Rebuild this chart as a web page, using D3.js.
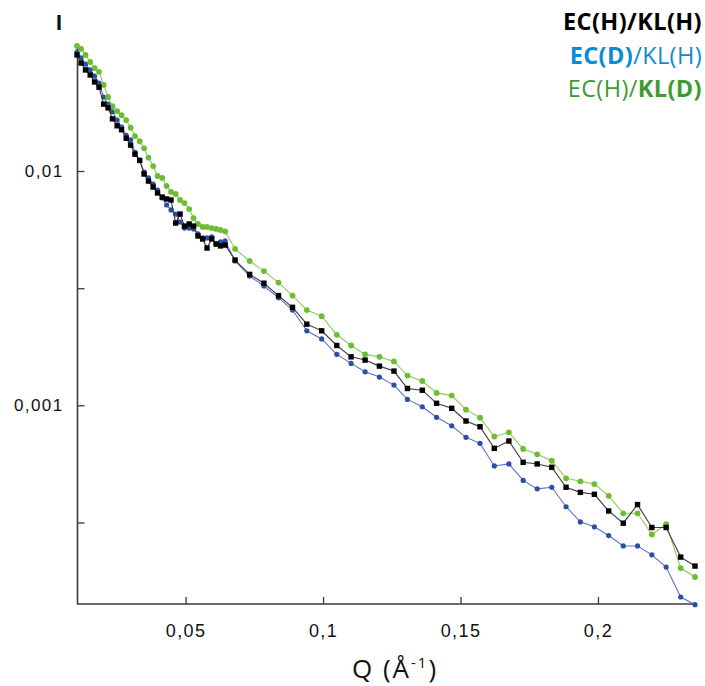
<!DOCTYPE html>
<html>
<head>
<meta charset="utf-8">
<script src="https://cdn.jsdelivr.net/npm/d3@7"></script>
<style>
  html, body { margin: 0; padding: 0; background: #fff; }
  svg { display: block; font-family: "Open Sans", "Noto Sans", sans-serif; }
</style>
</head>
<body>
<svg id="chart" width="705" height="686"></svg>
<script>
// ---- data ----
const Q = [
  0.0105, 0.0120, 0.0136, 0.0153, 0.0169, 0.0185, 0.0202, 0.0218, 0.0234, 0.0251,
  0.0267, 0.0284, 0.0300, 0.0316, 0.0333, 0.0349, 0.0365, 0.0382, 0.0398, 0.0415,
  0.0431, 0.0447, 0.0464, 0.0480, 0.0496, 0.0513, 0.0529, 0.0545, 0.0562, 0.0578,
  0.0595, 0.0611, 0.0627, 0.0644,
  0.0680, 0.0733, 0.0785, 0.0838, 0.0889, 0.0941, 0.0995, 0.1050, 0.1102, 0.1153,
  0.1205, 0.1258, 0.1307, 0.1361, 0.1413, 0.1468, 0.1520, 0.1571, 0.1623, 0.1676,
  0.1728, 0.1779, 0.1832, 0.1884, 0.1936, 0.1987, 0.2039, 0.2092, 0.2144, 0.2196,
  0.2248, 0.2301, 0.2353
];
// EC(H)/KL(H) - black squares
const I_ECH_KLH = [
  0.0313, 0.0289, 0.0270, 0.0257, 0.0240, 0.0228, 0.0193, 0.0186, 0.0167, 0.0156,
  0.0150, 0.0138, 0.0129, 0.0118, 0.0111, 0.00971, 0.00906, 0.00854, 0.00806, 0.00774,
  0.00760, 0.00752, 0.00600, 0.00655, 0.00582, 0.00594, 0.00582, 0.00528, 0.00513, 0.00469,
  0.00513, 0.00488, 0.00479, 0.00483,
  0.00417, 0.00362, 0.00332, 0.00294, 0.00262, 0.00222, 0.00208, 0.00180, 0.00161, 0.00156,
  0.00147, 0.00140, 0.00118, 0.00116, 0.00102, 0.000971, 0.000857, 0.000810, 0.000655, 0.000704,
  0.000571, 0.000562, 0.000544, 0.000447, 0.000425, 0.000417, 0.000354, 0.000314, 0.000377, 0.000301,
  0.000301, 0.000225, 0.000206
];
// EC(D)/KL(H) - blue dots
const I_ECD_KLH = [
  0.0322, 0.0304, 0.0286, 0.0270, 0.0254, 0.0237, 0.0207, 0.0193, 0.0179, 0.0165,
  0.0154, 0.0142, 0.0136, 0.0120, 0.0111, 0.00990, 0.00934, 0.00880, 0.00830, 0.00767,
  0.00716, 0.00682, 0.00655, 0.00606, 0.00571, 0.00571, 0.00566, 0.00539, 0.00518, 0.00518,
  0.00523, 0.00488, 0.00498, 0.00503,
  0.00413, 0.00356, 0.00323, 0.00288, 0.00255, 0.00208, 0.00192, 0.00165, 0.00151, 0.00139,
  0.00132, 0.00122, 0.00106, 0.000986, 0.000889, 0.000818, 0.000730, 0.000688, 0.000551, 0.000562,
  0.000478, 0.000440, 0.000447, 0.000369, 0.000318, 0.000303, 0.000278, 0.000251, 0.000251, 0.000230,
  0.000204, 0.000152, 0.000141
];
// EC(H)/KL(D) - green dots
const I_ECH_KLD = [
  0.0342, 0.0332, 0.0313, 0.0292, 0.0275, 0.0265, 0.0233, 0.0207, 0.0189, 0.0180,
  0.0173, 0.0165, 0.0153, 0.0141, 0.0134, 0.0125, 0.0114, 0.0105, 0.00952, 0.00934,
  0.00863, 0.00814, 0.00798, 0.00752, 0.00730, 0.00688, 0.00630, 0.00594, 0.00577, 0.00577,
  0.00571, 0.00566, 0.00560, 0.00552,
  0.00465, 0.00413, 0.00374, 0.00334, 0.00294, 0.00255, 0.00240, 0.00200, 0.00180, 0.00165,
  0.00161, 0.00154, 0.00134, 0.00127, 0.00113, 0.00110, 0.000958, 0.000886, 0.000736, 0.000767,
  0.000651, 0.000618, 0.000580, 0.000488, 0.000474, 0.000461, 0.000411, 0.000346, 0.000346, 0.000281,
  0.000311, 0.000202, 0.000185
];
const xTickValues = [0.05, 0.1, 0.15, 0.2];
const xTickLabels = ["0,05", "0,1", "0,15", "0,2"];
const yTickValues = [0.01, 0.00316, 0.001, 0.000316];
const yTickLabels = ["0,01", "", "0,001", ""];

// ---- scales ----
const svg = d3.select("#chart");
const x = d3.scaleLinear().domain([0.0105, 0.2353]).range([77, 695]);
const y = d3.scaleLog().domain([0.0001419, 0.0335]).range([604, 48]);

// ---- axes ----
const axisColor = "#3a3a3a";
const xAxis = d3.axisBottom(x).tickValues(xTickValues)
  .tickFormat((d, i) => xTickLabels[i]).tickSizeInner(-7).tickSizeOuter(0).tickPadding(20);
const gx = svg.append("g").attr("transform", "translate(0,604)").call(xAxis);
gx.select(".domain").attr("d", "M77,0H697").attr("stroke", axisColor).attr("stroke-width", 1.6);
gx.selectAll(".tick line").attr("stroke", axisColor).attr("stroke-width", 1.3);
gx.selectAll(".tick text").attr("fill", "#111").style("font-size", "18px").style("letter-spacing", "1.4px");

const yAxis = d3.axisLeft(y).tickValues(yTickValues)
  .tickFormat((d, i) => yTickLabels[i]).tickSizeInner(-7).tickSizeOuter(0).tickPadding(14);
const gy = svg.append("g").attr("transform", "translate(77.5,0)").call(yAxis);
gy.select(".domain").attr("d", "M0,48V604").attr("stroke", axisColor).attr("stroke-width", 1.6);
gy.selectAll(".tick line").attr("stroke", axisColor).attr("stroke-width", 1.3);
gy.selectAll(".tick text").attr("fill", "#111").style("font-size", "17px").style("letter-spacing", "1.4px");
svg.selectAll(".tick text").attr("font-family", null);

// ---- series ----
const series = [
  { name: "blue", values: I_ECD_KLH, line: "#5a74c4", fill: "#2d4ea6", shape: "circle", r: 2.6 },
  { name: "green", values: I_ECH_KLD, line: "#8fca5c", fill: "#6cbd32", shape: "circle", r: 2.9 },
  { name: "black", values: I_ECH_KLH, line: "#3a3a3a", fill: "#000000", shape: "square", r: 2.7 }
];
const lineGen = d3.line().x(d => x(d[0])).y(d => y(d[1]));
series.forEach(s => {
  const pts = Q.map((q, i) => [q, s.values[i]]);
  const g = svg.append("g");
  g.append("path").attr("d", lineGen(pts)).attr("fill", "none")
    .attr("stroke", s.line).attr("stroke-width", 1.1);
  if (s.shape === "circle") {
    g.selectAll("circle").data(pts).join("circle")
      .attr("cx", d => x(d[0])).attr("cy", d => y(d[1])).attr("r", s.r).attr("fill", s.fill);
  } else {
    g.selectAll("rect").data(pts).join("rect")
      .attr("x", d => x(d[0]) - s.r).attr("y", d => y(d[1]) - s.r)
      .attr("width", 2 * s.r).attr("height", 2 * s.r).attr("fill", s.fill);
  }
});

// ---- axis titles ----
svg.append("text").attr("x", 59).attr("y", 29.5).attr("text-anchor", "middle")
  .style("font-size", "21px").style("font-weight", 700).attr("fill", "#111").text("I");
const xt = svg.append("text").attr("x", 395).attr("y", 678).attr("text-anchor", "middle")
  .style("font-size", "26px").style("letter-spacing", "2px").attr("fill", "#111");
xt.append("tspan").text("Q (Å");
xt.append("tspan").attr("dy", -10).style("font-size", "15px").text("-1");
xt.append("tspan").attr("dy", 10).text(")");

// ---- legend ----
const legend = [
  { parts: [["EC(H)/KL(H)", 700]], color: "#000000" },
  { parts: [["EC(D)", 700], ["/KL(H)", 400]], color: "#0d8bd1" },
  { parts: [["EC(H)/", 400], ["KL(D)", 700]], color: "#3e9b30" }
];
legend.forEach((l, i) => {
  const t = svg.append("text").attr("x", 702).attr("y", 30 + i * 33.5)
    .attr("text-anchor", "end").style("font-size", "23.5px")
    .style("letter-spacing", "0.4px").attr("fill", l.color);
  l.parts.forEach(p => t.append("tspan").style("font-weight", p[1]).text(p[0]));
});
</script>
</body>
</html>
